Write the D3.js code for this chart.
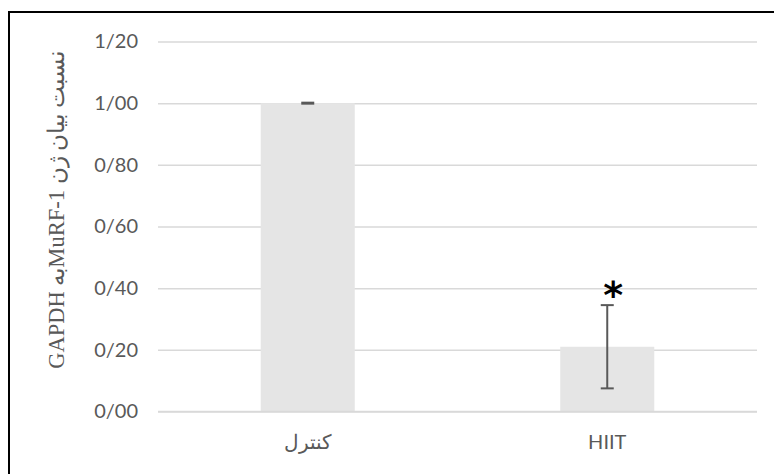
<!DOCTYPE html>
<html lang="fa">
<head>
<meta charset="utf-8">
<script src="https://cdn.jsdelivr.net/npm/d3@7"></script>
<style>
  html, body { margin: 0; padding: 0; background: #fff; }
  svg { display: block; }
</style>
</head>
<body>
<svg id="chart" width="774" height="474"></svg>
<script>
// Groups, means and error half-widths (MuRF-1 expression relative to GAPDH)
const groups = ["کنترل", "HIIT"];
const means = [1.00, 0.21];
const errors = [0.0, 0.135];
const significant = [false, true];
const yTicks = [0, 0.2, 0.4, 0.6, 0.8, 1.0, 1.2];
const yLabel = "نسبت بیان ژن MuRF-1به GAPDH";

const svg = d3.select("#chart");
const W = 774, H = 474;
const plot = { left: 158, right: 757, top: 41.5, bottom: 411.5 };

// outer frame
svg.append("rect")
  .attr("x", 9).attr("y", 12)
  .attr("width", W + 20).attr("height", H + 20)
  .attr("fill", "#fff")
  .attr("stroke", "#000").attr("stroke-width", 2);

const x = d3.scaleBand()
  .domain(groups)
  .range([plot.left, plot.right])
  .paddingInner(0.686)
  .paddingOuter(0.343);

const y = d3.scaleLinear()
  .domain([0, 1.2])
  .range([plot.bottom, plot.top]);

const fmt = v => d3.format(".2f")(v).replace(".", "/");

// horizontal gridlines + tick labels
const yAxis = d3.axisLeft(y)
  .tickValues(yTicks)
  .tickSize(-(plot.right - plot.left))
  .tickPadding(20)
  .tickFormat(fmt);

const gy = svg.append("g")
  .attr("transform", `translate(${plot.left},0)`)
  .call(yAxis);
gy.select(".domain").remove();
gy.selectAll(".tick line")
  .attr("stroke", "#d9d9d9")
  .attr("stroke-width", 1.5);
gy.selectAll(".tick text")
  .attr("fill", "#595959")
  .style("font-family", "Lato, 'Open Sans', sans-serif")
  .style("font-size", "20px");

const rows = groups.map((g, i) => ({ g, m: means[i], e: errors[i], s: significant[i] }));

// bars
svg.append("g").selectAll("rect")
  .data(rows).join("rect")
  .attr("x", d => x(d.g))
  .attr("y", d => y(d.m))
  .attr("width", x.bandwidth())
  .attr("height", d => y(0) - y(d.m))
  .attr("fill", "#e5e5e5");

// baseline
svg.append("line")
  .attr("x1", plot.left).attr("x2", plot.right)
  .attr("y1", y(0)).attr("y2", y(0))
  .attr("stroke", "#d9d9d9").attr("stroke-width", 1.5);

// error bars
const cap = 6.5;
const eb = svg.append("g").attr("stroke", "#595959").attr("stroke-width", 2);
rows.forEach(d => {
  const cx = x(d.g) + x.bandwidth() / 2;
  const hi = y(d.m + d.e), lo = y(d.m - d.e);
  if (d.e > 0) {
    eb.append("line").attr("x1", cx).attr("x2", cx).attr("y1", hi).attr("y2", lo);
    eb.append("line").attr("x1", cx - cap).attr("x2", cx + cap).attr("y1", lo).attr("y2", lo);
  }
  eb.append("line").attr("x1", cx - cap).attr("x2", cx + cap).attr("y1", hi).attr("y2", hi)
    .attr("stroke-width", d.e > 0 ? 2 : 3);
});

// significance marks
svg.append("g").selectAll("text")
  .data(rows.filter(d => d.s)).join("text")
  .attr("x", d => x(d.g) + x.bandwidth() / 2 + 6)
  .attr("y", d => y(d.m + d.e) + 3)
  .attr("text-anchor", "middle")
  .attr("fill", "#000")
  .style("font-family", "'DejaVu Sans', sans-serif")
  .style("font-weight", "bold")
  .style("font-size", "38px")
  .text("*");

// category labels
svg.append("g").selectAll("text")
  .data(groups).join("text")
  .attr("x", d => x(d) + x.bandwidth() / 2)
  .attr("y", 449)
  .attr("text-anchor", "middle")
  .attr("fill", "#595959")
  .style("font-family", "Lato, 'Open Sans', sans-serif")
  .style("font-size", "20px")
  .text(d => d);

// y-axis title
svg.append("text")
  .attr("transform", `translate(64, 210) rotate(-90)`)
  .attr("text-anchor", "middle")
  .attr("direction", "rtl")
  .attr("fill", "#595959")
  .style("font-family", "'Liberation Serif', 'Times New Roman', serif")
  .style("font-size", "22.5px")
  .text(yLabel);
</script>
</body>
</html>
